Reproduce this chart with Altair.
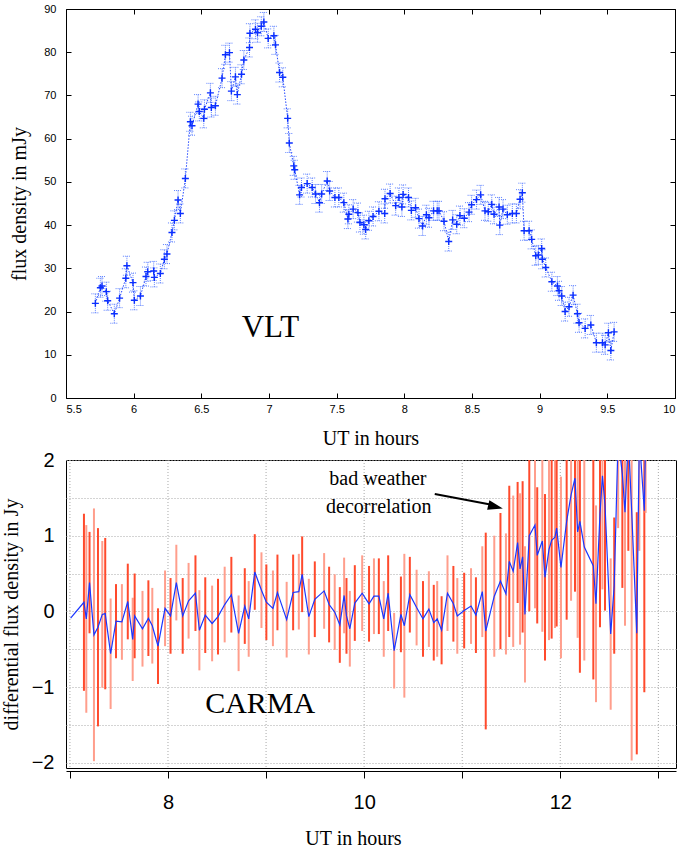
import altair as alt
import pandas as pd

# ---------------- data ----------------
VLT_T = [5.717, 5.754, 5.766, 5.798, 5.808, 5.857, 5.896, 5.942, 5.95, 5.995,
         6.005, 6.05, 6.091, 6.104, 6.148, 6.153, 6.197, 6.227, 6.246, 6.283,
         6.301, 6.328, 6.345, 6.382, 6.419, 6.431, 6.476, 6.485, 6.518, 6.523,
         6.567, 6.574, 6.604, 6.653, 6.678, 6.708, 6.722, 6.752, 6.766, 6.797,
         6.814, 6.856, 6.859, 6.9, 6.915, 6.943, 6.962, 6.994, 7.036, 7.048,
         7.078, 7.102, 7.138, 7.15, 7.183, 7.19, 7.226, 7.24, 7.282, 7.319,
         7.344, 7.373, 7.389, 7.43, 7.448, 7.487, 7.516, 7.553, 7.583, 7.59,
         7.622, 7.657, 7.672, 7.701, 7.714, 7.738, 7.769, 7.812, 7.855, 7.857,
         7.895, 7.936, 7.96, 7.982, 7.991, 8.031, 8.052, 8.083, 8.108, 8.135,
         8.163, 8.182, 8.216, 8.243, 8.256, 8.293, 8.328, 8.357, 8.387, 8.411,
         8.443, 8.478, 8.497, 8.533, 8.564, 8.596, 8.62, 8.646, 8.663, 8.7,
         8.705, 8.729, 8.761, 8.798, 8.828, 8.855, 8.872, 8.885, 8.922, 8.941,
         8.971, 8.99, 9.015, 9.02, 9.045, 9.09, 9.131, 9.143, 9.163, 9.188,
         9.217, 9.247, 9.279, 9.291, 9.336, 9.378, 9.419, 9.464, 9.484, 9.508,
         9.526, 9.55]
VLT_FLUX = [21.9, 25.5, 25.9, 24.6, 22.5, 19.5, 23.1, 27.7, 30.6, 26.7,
            22.6, 23.6, 28.1, 29.2, 29.4, 27.9, 28.8, 32.1, 33.3, 38.3,
            41.1, 45.8, 42.7, 50.8, 63.9, 63.0, 68.0, 66.3, 64.7, 66.8,
            70.6, 67.2, 67.6, 74.0, 79.4, 79.9, 71.0, 74.3, 70.2, 74.9,
            78.2, 81.1, 84.4, 85.3, 84.5, 86.0, 87.0, 83.2, 83.8, 81.7,
            75.3, 74.2, 64.7, 59.0, 53.7, 52.8, 47.0, 48.7, 49.6, 48.7,
            47.2, 45.2, 47.2, 50.2, 47.9, 46.4, 46.4, 45.2, 41.4, 42.5,
            43.7, 42.9, 40.6, 40.1, 39.0, 41.0, 42.0, 43.2, 42.7, 46.1,
            47.3, 44.5, 46.4, 44.2, 47.1, 46.4, 43.4, 44.0, 41.5, 39.8,
            42.4, 41.7, 43.3, 43.3, 43.3, 40.9, 36.2, 41.2, 40.2, 42.2,
            41.6, 43.0, 44.7, 45.9, 47.0, 43.3, 43.1, 44.8, 42.5, 44.2,
            40.0, 43.7, 42.4, 42.7, 42.7, 46.0, 47.5, 38.7, 38.7, 36.7,
            32.9, 33.1, 34.6, 32.1, 30.2, 26.9, 25.9, 24.8, 23.6, 20.0,
            21.1, 23.8, 19.5, 17.4, 16.1, 16.9, 12.8, 12.8, 12.3, 15.1,
            11.0, 15.3]
VLT_ERR = 2.2

CARMA_T = [7.007, 7.143, 7.167, 7.2, 7.245, 7.286, 7.33, 7.36, 7.415, 7.47,
           7.53, 7.59, 7.64, 7.66, 7.74, 7.8, 7.84, 7.898, 7.97, 8.026,
           8.085, 8.15, 8.21, 8.28, 8.32, 8.38, 8.45, 8.51, 8.578, 8.646,
           8.72, 8.783, 8.823, 8.885, 8.953, 9.003, 9.07, 9.116, 9.21, 9.276,
           9.334, 9.368, 9.436, 9.497, 9.592, 9.643, 9.7, 9.752, 9.796, 9.82,
           9.854, 9.905, 9.98, 10.05, 10.1, 10.15, 10.2, 10.245, 10.306, 10.375,
           10.41, 10.466, 10.535, 10.6, 10.66, 10.71, 10.745, 10.79, 10.85, 10.91,
           10.95, 11.02, 11.09, 11.14, 11.205, 11.24, 11.327, 11.39, 11.446, 11.48,
           11.52, 11.565, 11.59, 11.616, 11.64, 11.684, 11.742, 11.765, 11.817, 11.844,
           11.885, 11.912, 11.946, 11.963, 12.007, 12.065, 12.11, 12.15, 12.177, 12.2,
           12.245, 12.337, 12.364, 12.405, 12.43, 12.456, 12.514, 12.55, 12.59, 12.633,
           12.66, 12.694, 12.728, 12.78, 12.806, 12.857, 12.87]
CARMA_FLUX = [-0.09, 0.12, -0.10, 0.38, -0.31, -0.21, -0.04, -0.03, -0.56, -0.13,
              -0.14, 0.13, -0.37, -0.06, -0.23, -0.09, -0.19, -0.46, 0.04, -0.06,
              0.38, -0.06, 0.14, 0.24, -0.25, -0.05, -0.16, -0.07, 0.09, 0.22,
              -0.29, 0.07, -0.10, 0.52, 0.28, 0.12, 0.04, 0.25, -0.11, 0.25,
              0.26, 0.49, -0.07, 0.16, 0.27, 0.09, -0.01, -0.18, 0.21, -0.06,
              -0.23, 0.11, 0.24, 0.10, 0.20, 0.20, -0.10, 0.24, -0.52, -0.04,
              -0.19, 0.22, 0.05, -0.10, 0.03, -0.15, -0.10, -0.25, 0.24, 0.10,
              -0.06, 0.01, 0.07, -0.05, 0.26, -0.26, 0.20, 0.40, 0.23, 0.66,
              0.53, 0.91, 0.56, 0.72, -0.04, 1.00, 1.14, 0.74, 0.93, 0.45,
              0.82, 0.94, 0.98, 1.10, 0.58, 1.19, 1.54, 1.76, 1.05, 1.19,
              0.85, 0.60, 0.10, 1.29, 1.79, 1.41, -0.30, 0.34, 2.3, 1.81,
              1.31, 2.3, 1.33, -0.29, 2.3, 1.33, 2.3]
CARMA_ERR = [0.0, 1.17, 1.24, 0.67, 1.67, 1.31, 0.97, 1.0, 0.73, 0.49,
             0.5, 0.5, 0.55, 0.56, 0.5, 0.5, 0.5, 0.5, 0.5, 0.5,
             0.5, 0.5, 0.5, 0.5, 0.53, 0.5, 0.5, 0.5, 0.5, 0.5,
             0.5, 0.5, 0.5, 0.5, 0.5, 0.5, 0.5, 0.5, 0.5, 0.5,
             0.5, 0.5, 0.5, 0.5, 0.5, 0.5, 0.5, 0.5, 0.5, 0.5,
             0.5, 0.5, 0.5, 0.5, 0.5, 0.5, 0.5, 0.5, 0.5, 0.5,
             0.95, 0.5, 0.5, 0.5, 0.5, 0.5, 0.5, 0.45, 0.5, 0.5,
             0.5, 0.5, 0.5, 0.5, 0.6, 1.3, 0.8, 0.9, 0.8, 1.0,
             1.0, 0.8, 1.0, 1.0, 0.9, 1.0, 1.1, 0.9, 1.2, 1.1,
             1.2, 1.3, 1.2, 1.3, 1.2, 1.3, 1.4, 1.5, 1.4, 2.0,
             1.5, 1.5, 1.3, 1.5, 1.5, 1.4, 1.0, 0.9, 1.2, 1.5,
             1.5, 1.5, 3.3, 1.6, 1.5, 2.4, 1.0]

# tick / grid positions of the lower panel
CARMA_X_TICKS = [7, 8, 9, 10, 11, 12, 13]
CARMA_Y_TICKS = [-2, -1.5, -1, -0.5, 0, 0.5, 1, 1.5, 2]

# annotation texts (data coordinates of the panels)
VLT_LABEL = {"t": [7.01], "f": [16.3], "label": ["VLT"]}
CARMA_LABEL = {"t": [8.94], "f": [-1.22], "label": ["CARMA"]}
NOTE = {"t": [10.14, 10.15], "f": [1.75, 1.38], "label": ["bad weather", "decorrelation"]}
ARROW = {"t": [10.72], "f": [1.55], "t2": [11.30], "f2": [1.41]}
ARROW_HEAD = {"t": [11.34], "f": [1.383]}

SERIF = "Liberation Serif, Times New Roman, serif"
SANS = "Liberation Sans, Arial, Helvetica, sans-serif"

# ---------------- top panel (VLT) ----------------
vlt = pd.DataFrame({"t": VLT_T, "f": VLT_FLUX})
vlt["lo"] = vlt["f"] - VLT_ERR
vlt["hi"] = vlt["f"] + VLT_ERR

xs_top = alt.Scale(domain=[5.5, 10], nice=False, zero=False)
ys_top = alt.Scale(domain=[0, 90], nice=False)
xvals_top = [5.5, 6, 6.5, 7, 7.5, 8, 8.5, 9, 9.5, 10]
yvals_top = list(range(0, 91, 10))

base = alt.Chart(vlt)
xt = alt.X("t:Q", scale=xs_top, axis=None)

err = base.mark_rule(color="#5f82ff", strokeWidth=1, strokeDash=[1, 1]).encode(
    x=xt, y=alt.Y("lo:Q", scale=ys_top, axis=None), y2="hi:Q")
cap_lo = base.mark_point(shape="M-1,0L1,0", size=64, color="#5f82ff", filled=False,
                         strokeWidth=1, strokeDash=[1, 1], opacity=1).encode(
    x=xt, y=alt.Y("lo:Q", scale=ys_top, axis=None))
cap_hi = base.mark_point(shape="M-1,0L1,0", size=64, color="#5f82ff", filled=False,
                         strokeWidth=1, strokeDash=[1, 1], opacity=1).encode(
    x=xt, y=alt.Y("hi:Q", scale=ys_top, axis=None))
conn = base.mark_line(color="#2448ff", strokeWidth=1, strokeDash=[1.5, 1.5]).encode(
    x=xt, y=alt.Y("f:Q", scale=ys_top, axis=None))
plus = base.mark_point(shape="M-1,0L1,0M0,-1L0,1", size=49, color="#0b2fff", filled=False,
                       strokeWidth=1.4, opacity=1).encode(
    x=alt.X("t:Q", scale=xs_top, axis=alt.Axis(
        orient="bottom", values=xvals_top, format="~g", offset=-5, tickSize=5,
        domain=False, grid=False, labelFont=SANS, labelFontSize=11, labelPadding=5,
        title="UT in hours", titleFont=SERIF, titleFontSize=20, titlePadding=14)),
    y=alt.Y("f:Q", scale=ys_top, axis=alt.Axis(
        orient="left", values=yvals_top, offset=-5, tickSize=5, domain=False, grid=False,
        labelFont=SANS, labelFontSize=11, labelPadding=10,
        title="flux density in mJy", titleFont=SERIF, titleFontSize=20, titlePadding=14)))
frame_ticks = base.mark_point(opacity=0).encode(
    x=alt.X("t:Q", scale=xs_top, axis=alt.Axis(
        orient="top", values=xvals_top, offset=-5, tickSize=5, labels=False,
        domain=False, grid=False, title=None)),
    y=alt.Y("f:Q", scale=ys_top, axis=alt.Axis(
        orient="right", values=yvals_top, offset=-5, tickSize=5, labels=False,
        domain=False, grid=False, title=None)))
vlt_text = alt.Chart(pd.DataFrame(VLT_LABEL)).mark_text(
    font=SERIF, fontSize=31, color="black", baseline="middle").encode(
    x=xt, y=alt.Y("f:Q", scale=ys_top, axis=None), text="label:N")

top = alt.layer(err, cap_lo, cap_hi, conn, plus, frame_ticks, vlt_text).resolve_axis(
    x="independent", y="independent").properties(width=609, height=389)

# ---------------- bottom panel (CARMA) ----------------
carma = pd.DataFrame({"t": CARMA_T, "f": CARMA_FLUX, "e": CARMA_ERR})
carma["lo"] = carma["f"] - carma["e"]
carma["hi"] = carma["f"] + carma["e"]
carma["shade"] = ["light" if i % 2 == 0 else "dark" for i in range(len(carma))]

xs_bot = alt.Scale(domain=[6.96, 13.18], nice=False, zero=False)
ys_bot = alt.Scale(domain=[-2.07, 2.0], nice=False, zero=False)
xb = alt.X("t:Q", scale=xs_bot, axis=None)
yb = alt.Y("f:Q", scale=ys_bot, axis=None)

xgrid = alt.Chart(pd.DataFrame({"t": CARMA_X_TICKS})).mark_rule(
    color="#a8a8a8", strokeWidth=1, strokeDash=[1, 2]).encode(x=xb)

cb = alt.Chart(carma)
bars = cb.mark_rule(strokeWidth=2, clip=True).encode(
    x=xb, y=alt.Y("lo:Q", scale=ys_bot, axis=None), y2="hi:Q",
    color=alt.Color("shade:N", scale=alt.Scale(domain=["light", "dark"],
                                               range=["#ff9e8c", "#ff4a2c"]), legend=None))
bline = cb.mark_line(color="#1a36ff", strokeWidth=1.2, clip=True).encode(
    x=alt.X("t:Q", scale=xs_bot, axis=alt.Axis(
        orient="bottom", values=CARMA_X_TICKS, format="~g",
        labelExpr="datum.value % 2 == 0 ? datum.label : ''",
        offset=3, tickSize=7, domain=True, grid=False,
        labelFont=SANS, labelFontSize=20, labelPadding=14,
        title="UT in hours", titleFont=SERIF, titleFontSize=20, titlePadding=16,
        titleX=287)),
    y=alt.Y("f:Q", scale=ys_bot, axis=alt.Axis(
        orient="left", values=CARMA_Y_TICKS, format="~g",
        labelExpr="datum.value % 1 == 0 ? datum.label : ''",
        ticks=False, tickSize=0, domain=False, grid=True, gridDash=[1, 2],
        gridColor="#a8a8a8", gridWidth=1,
        labelFont=SANS, labelFontSize=20, labelPadding=12,
        title="differential flux density in Jy", titleFont=SERIF, titleFontSize=20,
        titlePadding=10)))

carma_text = alt.Chart(pd.DataFrame(CARMA_LABEL)).mark_text(
    font=SERIF, fontSize=30, color="black", baseline="middle").encode(
    x=xb, y=yb, text="label:N")
note_text = alt.Chart(pd.DataFrame(NOTE)).mark_text(
    font=SERIF, fontSize=20, color="black", baseline="middle").encode(
    x=xb, y=yb, text="label:N")
arrow = alt.Chart(pd.DataFrame(ARROW)).mark_rule(color="black", strokeWidth=2).encode(
    x=xb, y=yb, x2="t2:Q", y2="f2:Q")
head = alt.Chart(pd.DataFrame(ARROW_HEAD)).mark_point(
    shape="M-1,-0.65L1,0L-1,0.65Z", size=225, angle=13.5, filled=True,
    color="black", opacity=1).encode(x=xb, y=yb)

bottom = alt.layer(xgrid, bars, bline, carma_text, note_text, arrow, head).resolve_axis(
    x="independent", y="independent").properties(width=610, height=308)

chart = alt.vconcat(top, bottom, spacing=0).properties(
    padding={"left": 0, "top": 2, "right": 0, "bottom": 0}
).configure_view(stroke="black", strokeWidth=1).configure_axis(
    labelColor="black", tickColor="black", domainColor="black", titleColor="black",
    titleFontWeight="normal")

chart.save("out.html", embed_options={"renderer": "svg", "actions": False})
